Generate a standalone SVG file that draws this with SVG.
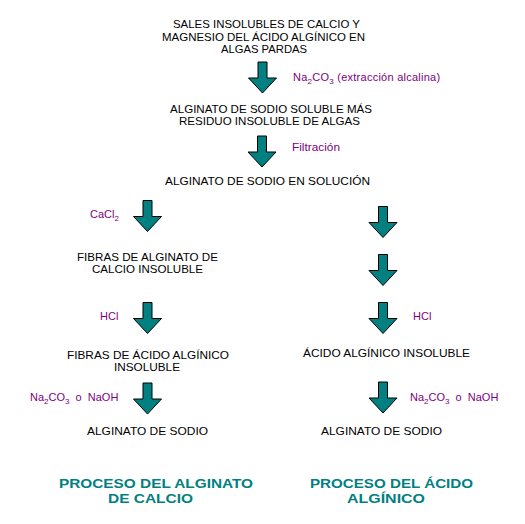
<svg xmlns="http://www.w3.org/2000/svg" width="525" height="524" viewBox="0 0 525 524">
<style>
text{font-family:"Liberation Sans","DejaVu Sans",sans-serif;font-size:11px;fill:#000}
.lbl{fill:#800080}
.ttl{fill:#008080;font-weight:bold;font-size:13px}
.arr{fill:#008080;stroke:#000;stroke-width:1}
</style>
<defs>
<path id="ar" class="arr" d="M-4.5,0 H4.5 V16 H14 L0,31 L-14,16 H-4.5 Z"/>
</defs>
<rect width="525" height="524" fill="#fff"/>
<g id="connectors">
<use href="#ar" x="262.5" y="62"/>
<use href="#ar" x="262" y="136"/>
<use href="#ar" x="147.5" y="200.5"/>
<use href="#ar" x="383" y="206.5"/>
<use href="#ar" x="383" y="254.5"/>
<use href="#ar" x="147.5" y="302.5"/>
<use href="#ar" x="383" y="302.5"/>
<use href="#ar" x="147.5" y="383"/>
<use href="#ar" x="383" y="382"/>
</g>
<g id="n-sales">
<text x="173" y="28" textLength="187" lengthAdjust="spacingAndGlyphs">SALES INSOLUBLES DE CALCIO Y</text>
<text x="162" y="41" textLength="203" lengthAdjust="spacingAndGlyphs">MAGNESIO DEL ÁCIDO ALGÍNICO EN</text>
<text x="221" y="53" textLength="86" lengthAdjust="spacingAndGlyphs">ALGAS PARDAS</text>
</g>
<g id="l-extraccion">
<text class="lbl" x="293" y="81" style="letter-spacing:0.25px">Na<tspan font-size="8" dy="3">2</tspan><tspan dy="-3">CO</tspan><tspan font-size="8" dy="3">3</tspan><tspan dy="-3"> (extracción alcalina)</tspan></text>
</g>
<g id="n-alginato-residuo">
<text x="170" y="113" textLength="202" lengthAdjust="spacingAndGlyphs">ALGINATO DE SODIO SOLUBLE MÁS</text>
<text x="179" y="125" textLength="181" lengthAdjust="spacingAndGlyphs">RESIDUO INSOLUBLE DE ALGAS</text>
</g>
<g id="l-filtracion">
<text class="lbl" x="292" y="151" textLength="48" lengthAdjust="spacingAndGlyphs">Filtración</text>
</g>
<g id="n-solucion">
<text x="165" y="185" textLength="205" lengthAdjust="spacingAndGlyphs">ALGINATO DE SODIO EN SOLUCIÓN</text>
</g>
<g id="l-cacl2">
<text class="lbl" x="90" y="218">CaCl<tspan font-size="8" dy="3">2</tspan></text>
</g>
<g id="n-fibras-calcio">
<text x="77" y="261" textLength="141" lengthAdjust="spacingAndGlyphs">FIBRAS DE ALGINATO DE</text>
<text x="92" y="273" textLength="111" lengthAdjust="spacingAndGlyphs">CALCIO INSOLUBLE</text>
</g>
<g id="l-hcl-left">
<text class="lbl" x="100" y="320">HCl</text>
</g>
<g id="l-hcl-right">
<text class="lbl" x="413" y="320">HCl</text>
</g>
<g id="n-fibras-acido">
<text x="67" y="359" textLength="162" lengthAdjust="spacingAndGlyphs">FIBRAS DE ÁCIDO ALGÍNICO</text>
<text x="114" y="371" textLength="66" lengthAdjust="spacingAndGlyphs">INSOLUBLE</text>
</g>
<g id="n-acido-insoluble">
<text x="303" y="357" textLength="167" lengthAdjust="spacingAndGlyphs">ÁCIDO ALGÍNICO INSOLUBLE</text>
</g>
<g id="l-base-left">
<text class="lbl" x="30" y="401">Na<tspan font-size="8" dy="3">2</tspan><tspan dy="-3">CO</tspan><tspan font-size="8" dy="3">3</tspan><tspan dy="-3" xml:space="preserve">  o  NaOH</tspan></text>
</g>
<g id="l-base-right">
<text class="lbl" x="410" y="401">Na<tspan font-size="8" dy="3">2</tspan><tspan dy="-3">CO</tspan><tspan font-size="8" dy="3">3</tspan><tspan dy="-3" xml:space="preserve">  o  NaOH</tspan></text>
</g>
<g id="n-alginato-sodio-left">
<text x="87" y="435" textLength="121" lengthAdjust="spacingAndGlyphs">ALGINATO DE SODIO</text>
</g>
<g id="n-alginato-sodio-right">
<text x="321" y="435" textLength="121" lengthAdjust="spacingAndGlyphs">ALGINATO DE SODIO</text>
</g>
<g id="t-calcio">
<text class="ttl" x="59" y="488" textLength="194" lengthAdjust="spacingAndGlyphs">PROCESO DEL ALGINATO</text>
<text class="ttl" x="108" y="503" textLength="85" lengthAdjust="spacingAndGlyphs">DE CALCIO</text>
</g>
<g id="t-acido">
<text class="ttl" x="310" y="488" textLength="163" lengthAdjust="spacingAndGlyphs">PROCESO DEL ÁCIDO</text>
<text class="ttl" x="347" y="503" textLength="78" lengthAdjust="spacingAndGlyphs">ALGÍNICO</text>
</g>
</svg>
